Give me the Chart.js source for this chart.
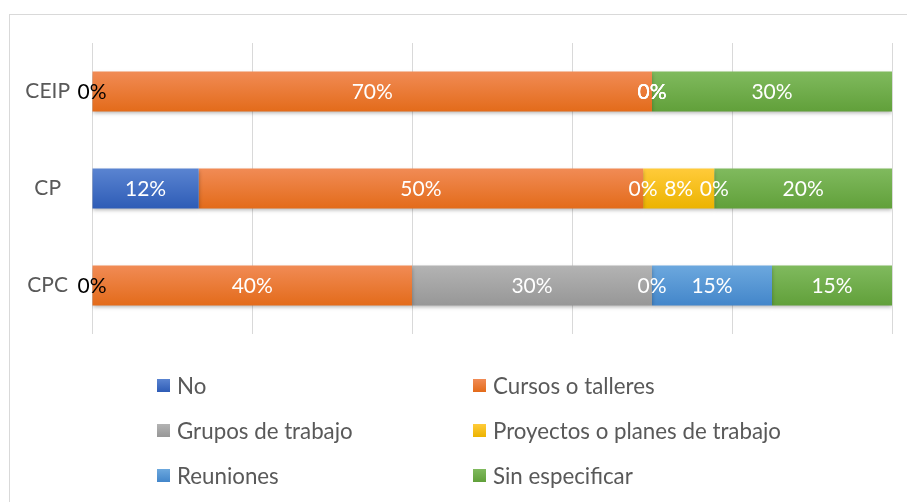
<!DOCTYPE html>
<html><head><meta charset="utf-8">
<script src="https://cdn.jsdelivr.net/npm/chart.js@4"></script>
<style>
html,body{margin:0;padding:0;background:#fff;overflow:hidden}
#wrap{position:relative;width:907px;height:502px;overflow:hidden}
#frame{position:absolute;left:9px;top:14px;width:1000px;height:600px;border-left:1px solid #d9d9d9;border-top:1px solid #d9d9d9}
canvas{position:absolute;left:0;top:0}
#legend{position:absolute;left:0;top:0;width:907px;height:502px;pointer-events:none;font-family:Lato,sans-serif;font-size:22.3px;color:#595959}
.item{position:absolute;display:flex;align-items:center;height:30px;transform:translateY(-50%);white-space:nowrap}
.box{width:13px;height:13px;margin-right:7px}
</style></head>
<body>
<div id="wrap">
<div id="frame"></div>
<canvas id="c" width="907" height="502"></canvas>
<div id="legend"></div>
</div>
<script>
const categories = ['CEIP', 'CP', 'CPC'];
const seriesNames = ['No', 'Cursos o talleres', 'Grupos de trabajo', 'Proyectos o planes de trabajo', 'Reuniones', 'Sin especificar'];
const no = [0, 12, 0];
const cursos = [70, 50, 40];
const grupos = [0, 0, 30];
const proyectos = [0, 8, 0];
const reuniones = [0, 0, 15];
const sinEspecificar = [30, 20, 15];
const xTicks = [0, 20, 40, 60, 80, 100];

const seriesValues = [no, cursos, grupos, proyectos, reuniones, sinEspecificar];
const colorsTop = ['#5a84d1', '#f18b55', '#b3b3b3', '#ffcb3a', '#6ca8de', '#80ba5e'];
const colorsBottom = ['#2e5cb6', '#e36b1a', '#979797', '#ecb300', '#4386ca', '#61a03a'];

const totals = categories.map((_, i) => seriesValues.reduce((s, arr) => s + arr[i], 0));

function grad(k) {
  return (ctx) => {
    const ch = ctx.chart;
    if (!ch.chartArea || ctx.type !== 'data' || !ch.scales.y) return colorsTop[k];
    const y = ch.scales.y.getPixelForValue(ctx.dataIndex);
    const g = ch.ctx.createLinearGradient(0, y - 20, 0, y + 20);
    g.addColorStop(0, colorsTop[k]);
    g.addColorStop(1, colorsBottom[k]);
    return g;
  };
}

const datasets = seriesNames.map((name, k) => ({
  label: name,
  data: seriesValues[k].map((v, i) => v / totals[i] * 100),
  rawValues: seriesValues[k],
  backgroundColor: grad(k),
  borderWidth: 0,
  categoryPercentage: 1,
  barPercentage: 0.41
}));

const labelPlugin = {
  id: 'segLabels',
  beforeDatasetsDraw(chart) {
    const c = chart.ctx;
    c.save();
    c.shadowColor = 'rgba(0,0,0,0.3)';
    c.shadowBlur = 4;
    c.shadowOffsetY = 2;
  },
  afterDatasetsDraw(chart) {
    const c = chart.ctx;
    c.restore();
    c.save();
    c.font = '21px Lato';
    c.textAlign = 'center';
    c.textBaseline = 'middle';
    chart.data.datasets.forEach((ds, di) => {
      const meta = chart.getDatasetMeta(di);
      meta.data.forEach((bar, i) => {
        const v = ds.rawValues[i];
        const x = (bar.x + bar.base) / 2;
        c.fillStyle = (di === 0 && v === 0) ? '#000000' : '#ffffff';
        c.fillText(v + '%', x, bar.y + 1);
      });
    });
    c.restore();
  }
};

function draw() {
  new Chart(document.getElementById('c'), {
    type: 'bar',
    data: { labels: categories, datasets },
    options: {
      indexAxis: 'y',
      responsive: false,
      animation: false,
      devicePixelRatio: 1,
      layout: { padding: { left: 0, top: 43, right: 15, bottom: 168 } },
      plugins: { legend: { display: false }, tooltip: { enabled: false } },
      scales: {
        x: {
          stacked: true, min: 0, max: 100,
          afterBuildTicks: (s) => { s.ticks = xTicks.map(v => ({ value: v })); },
          ticks: { display: false },
          grid: { color: '#d9d9d9', lineWidth: 1, drawTicks: false },
          border: { display: false }
        },
        y: {
          stacked: true,
          afterFit: (s) => { s.width = 92; },
          ticks: { color: '#595959', font: { family: 'Lato', size: 21 }, crossAlign: 'center', padding: 22 },
          grid: { display: false, drawTicks: false },
          border: { display: false }
        }
      }
    },
    plugins: [labelPlugin]
  });

  const leg = document.getElementById('legend');
  const colX = [157, 473];
  const rowY = [385, 430, 475];
  seriesNames.forEach((name, k) => {
    const d = document.createElement('div');
    d.className = 'item';
    d.style.left = colX[k % 2] + 'px';
    d.style.top = rowY[Math.floor(k / 2)] + 'px';
    const b = document.createElement('span');
    b.className = 'box';
    b.style.background = 'linear-gradient(' + colorsTop[k] + ',' + colorsBottom[k] + ')';
    const t = document.createElement('span');
    t.textContent = name;
    d.appendChild(b); d.appendChild(t);
    leg.appendChild(d);
  });
}
document.fonts.load('21px Lato').then(draw, draw);
</script>
</body></html>
